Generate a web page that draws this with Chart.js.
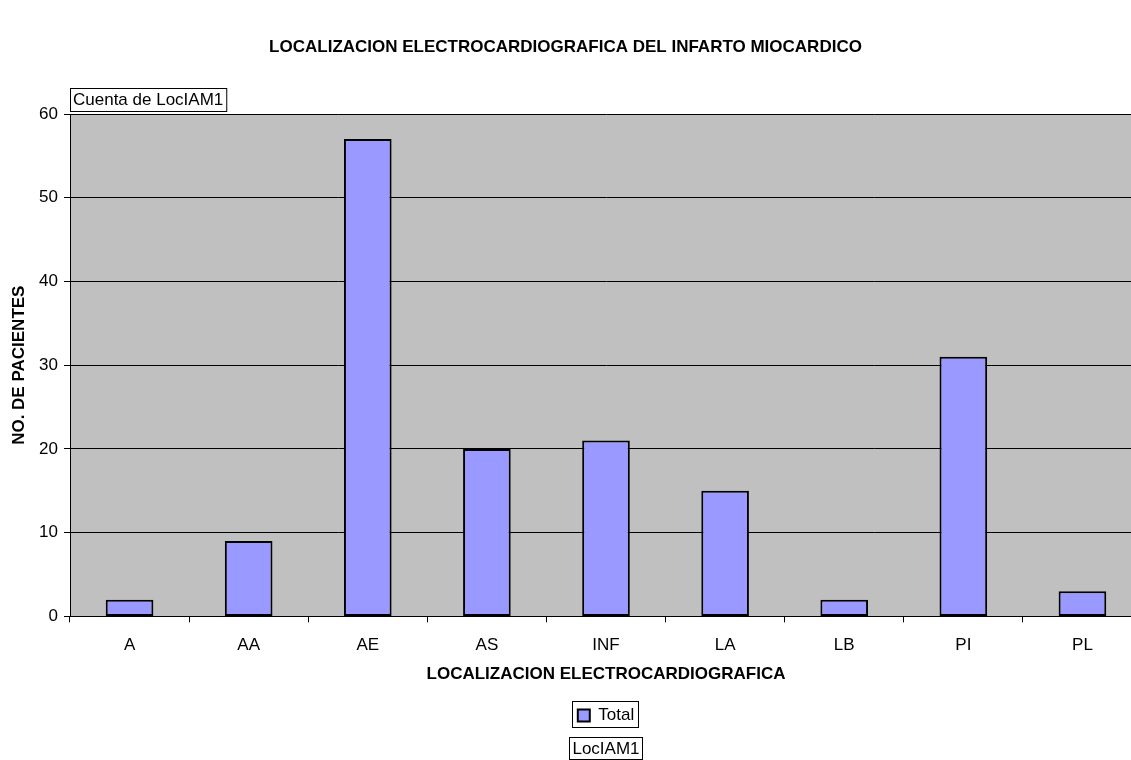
<!DOCTYPE html>
<html>
<head>
<meta charset="utf-8">
<script src="https://cdn.jsdelivr.net/npm/chart.js@4"></script>
<style>
body{margin:0;background:#fff}
#wrap{width:1131px;height:760px;overflow:hidden;position:relative}
</style>
</head>
<body>
<div id="wrap"><canvas id="mychart" width="1160" height="760"></canvas></div>
<script>
const categories = ['A', 'AA', 'AE', 'AS', 'INF', 'LA', 'LB', 'PI', 'PL'];
const totals = [2, 9, 57, 20, 21, 15, 2, 31, 3];
const yMin = 0, yMax = 60, yStep = 10;
const chartTitle = 'LOCALIZACION ELECTROCARDIOGRAFICA DEL INFARTO MIOCARDICO';
const fieldLabel = 'Cuenta de LocIAM1';
const seriesField = 'LocIAM1';

const FONT = "'Liberation Sans', Arial, sans-serif";
Chart.defaults.font.family = FONT;
Chart.defaults.font.size = 17;
Chart.defaults.color = '#000';

// gray plot area + the little boxes excel puts round the pivot fields
const excelBits = {
  id: 'excelBits',
  beforeDraw(chart) {
    const a = chart.chartArea, ctx = chart.ctx;
    ctx.save();
    ctx.fillStyle = '#C0C0C0';
    ctx.fillRect(a.left, a.top, a.right - a.left, a.bottom - a.top);
    ctx.restore();
  },
  afterDraw(chart) {
    const ctx = chart.ctx;
    ctx.save();
    ctx.fillStyle = '#000';
    ctx.font = 'bold 17px ' + FONT;
    ctx.textAlign = 'center';
    ctx.textBaseline = 'middle';
    ctx.fillText(chartTitle, 565.5, 47);

    ctx.font = '17px ' + FONT;
    ctx.textAlign = 'left';
    const a = chart.chartArea;
    let w = ctx.measureText(fieldLabel).width;
    ctx.fillStyle = '#fff';
    ctx.fillRect(a.left, 88, w + 6, 23);
    ctx.strokeStyle = '#000';
    ctx.lineWidth = 1;
    ctx.strokeRect(a.left + 0.5, 88.5, w + 6, 23);
    ctx.fillStyle = '#000';
    ctx.fillText(fieldLabel, a.left + 3, 100);

    // box round legend
    const hb = chart.legend.legendHitBoxes[0];
    if (hb) {
      const x0 = Math.round(hb.left - 6);
      ctx.strokeRect(x0 + 0.5, 701.5, Math.round(hb.width + 10), 26);
    }

    w = ctx.measureText(seriesField).width;
    const cx = (a.left + a.right) / 2;
    ctx.strokeRect(Math.round(cx - w / 2 - 3) + 0.5, 737.5, Math.round(w + 6), 22);
    ctx.textAlign = 'center';
    ctx.fillText(seriesField, cx, 749);
    ctx.restore();
  }
};

new Chart(document.getElementById('mychart'), {
  type: 'bar',
  data: {
    labels: categories,
    datasets: [{
      label: 'Total',
      data: totals,
      backgroundColor: '#9999FF',
      borderColor: '#000',
      borderWidth: 2,
      borderSkipped: false,
      categoryPercentage: 1,
      barPercentage: 0.4
    }]
  },
  options: {
    responsive: false,
    animation: false,
    layout: { padding: { top: 114, right: 18, bottom: 26, left: 0 } },
    plugins: {
      title: { display: false },
      tooltip: { enabled: false },
      legend: {
        position: 'bottom',
        fullSize: false,
        labels: { boxWidth: 12, boxHeight: 12, padding: 4, color: '#000' }
      }
    },
    scales: {
      x: {
        grid: { drawOnChartArea: false, color: '#000', tickLength: 6 },
        border: { color: '#000' },
        ticks: { padding: 14, font: { lineHeight: 1 } },
        title: { display: true, text: 'LOCALIZACION ELECTROCARDIOGRAFICA', font: { weight: 'bold', size: 17, lineHeight: 0.8 }, padding: { top: 0, bottom: 22 } }
      },
      y: {
        min: yMin, max: yMax,
        afterFit(scale) { scale.width = 70; },
        grid: { color: '#000', tickLength: 6 },
        border: { color: '#000' },
        ticks: { stepSize: yStep, padding: 6 },
        title: { display: true, text: 'NO. DE PACIENTES', font: { weight: 'bold', size: 17 }, padding: { top: 9, bottom: 0 } }
      }
    }
  },
  plugins: [excelBits]
});
</script>
</body>
</html>
